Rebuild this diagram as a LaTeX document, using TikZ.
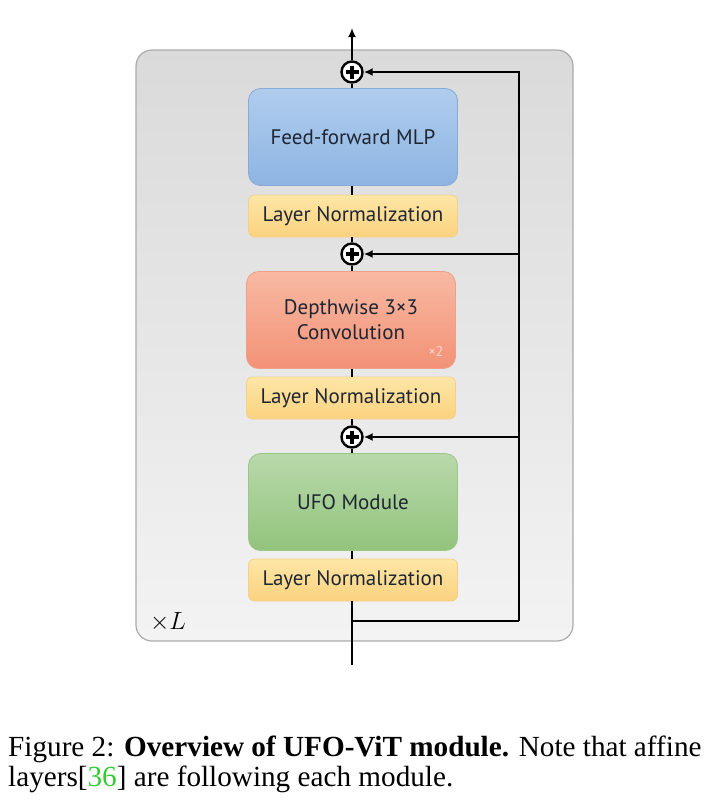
\documentclass[tikz,border=0pt]{standalone}
\usepackage{fontspec}
\setmainfont{Liberation Serif}
\newfontfamily\boxfont{PT Sans}
\usetikzlibrary{arrows.meta}
\definecolor{panelTop}{HTML}{DADADA}
\definecolor{panelBot}{HTML}{F3F3F3}
\definecolor{panelLine}{HTML}{ABABAB}
\definecolor{ffnTop}{HTML}{B0CDEE}
\definecolor{ffnBot}{HTML}{8DB4E2}
\definecolor{ffnLine}{HTML}{88AAD6}
\definecolor{lnTop}{HTML}{FDE6A6}
\definecolor{lnBot}{HTML}{FBD27F}
\definecolor{lnLine}{HTML}{F4D08C}
\definecolor{dwTop}{HTML}{F8B9A2}
\definecolor{dwBot}{HTML}{F29277}
\definecolor{dwLine}{HTML}{EDA18A}
\definecolor{ufoTop}{HTML}{B8D9AB}
\definecolor{ufoBot}{HTML}{92C37C}
\definecolor{ufoLine}{HTML}{9CC58A}
\definecolor{boxText}{HTML}{1E2633}
\definecolor{citeGreen}{HTML}{33CC33}
\tikzset{
  panel/.style={draw=panelLine, line width=1.2pt, rounded corners=16pt,
    top color=panelTop, bottom color=panelBot},
  blk/.style={line width=0.8pt, minimum width=209pt, align=center,
    text=boxText, font=\boxfont\fontsize{21}{25}\selectfont},
  bigblk/.style={blk, rounded corners=12pt, minimum height=97pt},
  lnorm/.style={blk, rounded corners=6pt, minimum height=42pt,
    draw=lnLine, top color=lnTop, bottom color=lnBot},
  addop/.style={circle, draw, fill=white, line width=2.4pt, minimum size=21pt,
    inner sep=0pt, path picture={
      \draw[line width=3.6pt]
        ([xshift=4pt]path picture bounding box.west) -- ([xshift=-4pt]path picture bounding box.east)
        ([yshift=-4pt]path picture bounding box.north) -- ([yshift=4pt]path picture bounding box.south);}},
  flow/.style={line width=2pt, black},
  caption/.style={inner sep=0pt, anchor=base west, font=\fontsize{29.2}{30}\selectfont}
}
\begin{document}
\begin{tikzpicture}[x=1pt,y=-1pt]
\useasboundingbox (0,0) rectangle (716,812);

%Draw the repeated block
\draw[panel] (136,50) rectangle (573,641);
\node[font=\fontsize{24}{26}\selectfont] (reps) at (168,622) {$\times L$};

%Draw the layers
\node[bigblk, draw=ffnLine, top color=ffnTop, bottom color=ffnBot] (mlp) at (353,137) {Feed-forward MLP};
\node[lnorm] (ln1) at (353,216) {Layer Normalization};
\node[bigblk, draw=dwLine, top color=dwTop, bottom color=dwBot] (dw) at (351,320) {Depthwise 3×3\\Convolution};
\node[text=white!65!dwBot, font=\boxfont\fontsize{14}{16}\selectfont] (twice) at (436,352) {×2};
\node[lnorm] (ln2) at (351,398) {Layer Normalization};
\node[bigblk, draw=ufoLine, top color=ufoTop, bottom color=ufoBot] (ufo) at (353,502) {UFO Module};
\node[lnorm] (ln3) at (353,580) {Layer Normalization};

%Draw the additions
\node[addop] (add3) at (352,72) {};
\node[addop] (add2) at (352,254) {};
\node[addop] (add1) at (352,437) {};
\coordinate (in) at (352,665);
\coordinate (out) at (352,28);
\coordinate (split) at (352,621);
\coordinate (rail) at (519,621);

%Main path
\draw[flow] (in) -- (in |- ln3.south);
\draw[flow] (in |- ln3.north) -- (in |- ufo.south);
\draw[flow] (in |- ufo.north) -- (add1);
\draw[flow] (add1) -- (in |- ln2.south);
\draw[flow] (in |- ln2.north) -- (in |- dw.south);
\draw[flow] (in |- dw.north) -- (add2);
\draw[flow] (add2) -- (in |- ln1.south);
\draw[flow] (in |- ln1.north) -- (in |- mlp.south);
\draw[flow] (in |- mlp.north) -- (add3);
\draw[flow, -{Latex[length=9pt,width=8pt]}] (add3) -- (out);

%Skip connections
\draw[flow] (split) -- (rail);
\draw[flow, -{Latex[length=9pt,width=8pt]}] (rail) |- (add1);
\draw[flow, -{Latex[length=9pt,width=8pt]}] (rail) |- (add2);
\draw[flow, -{Latex[length=9pt,width=8pt]}] (rail) |- (add3);

%Caption
\node[caption] (cap1) at (8,756) {Figure 2: \textbf{Overview of UFO-ViT module.} Note that affine};
\node[caption] (cap2) at (8,786) {layers[{\color{citeGreen}36}] are following each module.};
\end{tikzpicture}
\end{document}
